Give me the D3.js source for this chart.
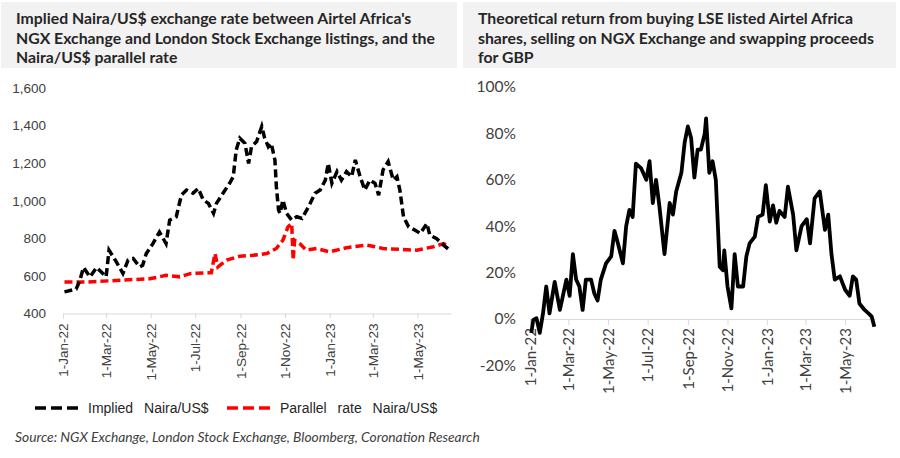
<!DOCTYPE html>
<html>
<head>
<meta charset="utf-8">
<script src="https://cdn.jsdelivr.net/npm/d3@7"></script>
<style>
  html, body { margin: 0; padding: 0; background: #fff; }
</style>
</head>
<body>
<div id="container"></div>
<script>
const WIDTH = 900;
const HEIGHT = 458;

// Implied Naira/US$ (NGX price vs LSE price)
const impliedDates = [
  '2022-01-03','2022-01-19','2022-01-24','2022-01-29','2022-02-07','2022-02-16','2022-03-01','2022-03-05',
  '2022-03-15','2022-03-24','2022-03-31','2022-04-07','2022-04-16','2022-04-20','2022-04-25','2022-05-04',
  '2022-05-13','2022-05-22','2022-05-27','2022-06-05','2022-06-12','2022-06-19','2022-06-28','2022-07-05',
  '2022-07-12','2022-07-19','2022-07-26','2022-07-30','2022-08-08','2022-08-17','2022-08-22','2022-08-26',
  '2022-08-31','2022-09-07','2022-09-12','2022-09-16','2022-09-23','2022-09-30','2022-10-04','2022-10-09',
  '2022-10-13','2022-10-18','2022-10-20','2022-10-23','2022-10-25','2022-10-29','2022-11-03','2022-11-10',
  '2022-11-17','2022-11-24','2022-12-03','2022-12-12','2022-12-19','2022-12-26','2022-12-30','2023-01-04',
  '2023-01-11','2023-01-17','2023-01-24','2023-01-31','2023-02-05','2023-02-11','2023-02-18','2023-02-25',
  '2023-03-04','2023-03-09','2023-03-15','2023-03-22','2023-03-29','2023-04-03','2023-04-07','2023-04-12',
  '2023-04-19','2023-04-28','2023-05-05','2023-05-14','2023-05-18','2023-05-27','2023-06-06','2023-06-14'
];
const impliedValues = [
  515, 530, 575, 645, 595, 645, 595, 737,
  675, 613, 684, 693, 648, 657, 719, 772,
  834, 772, 897, 915, 1030, 1057, 1040, 1066,
  1004, 986, 933, 986, 1040, 1093, 1128, 1270,
  1333, 1306, 1199, 1288, 1315, 1395, 1333, 1288,
  1306, 1217, 1075, 950, 933, 1004, 933, 897,
  915, 906, 968, 1040, 1057, 1110, 1199, 1093,
  1155, 1110, 1155, 1128, 1217, 1137, 1057, 1110,
  1093, 1030, 1164, 1208, 1110, 1128, 1057, 915,
  861, 843, 826, 879, 817, 799, 764, 737
];

// Parallel (street) Naira/US$ rate
const parallelDates = [
  '2022-01-03','2022-02-02','2022-03-15','2022-04-30','2022-05-22','2022-06-10','2022-06-24','2022-07-17',
  '2022-07-23','2022-07-28','2022-08-01','2022-08-13','2022-08-31','2022-09-18','2022-10-07','2022-10-20',
  '2022-10-29','2022-11-05','2022-11-10','2022-11-12','2022-11-14','2022-11-21','2022-11-30','2022-12-14',
  '2023-01-01','2023-01-24','2023-02-21','2023-03-15','2023-04-07','2023-04-30','2023-05-23','2023-06-06',
  '2023-06-14'
];
const parallelValues = [
  567, 567, 576, 585, 603, 595, 612, 617,
  617, 719, 648, 684, 705, 710, 719, 746,
  790, 861, 879, 684, 790, 772, 737, 746,
  728, 750, 764, 746, 741, 737, 755, 772,
  755
];

// Theoretical return, %
const returnDates = [
  '2022-01-03','2022-01-06','2022-01-11','2022-01-16','2022-01-21','2022-01-26','2022-01-31','2022-02-08',
  '2022-02-16','2022-02-26','2022-03-03','2022-03-08','2022-03-13','2022-03-18','2022-03-23','2022-03-28',
  '2022-04-05','2022-04-10','2022-04-15','2022-04-20','2022-04-28','2022-05-06','2022-05-11','2022-05-16',
  '2022-05-24','2022-05-29','2022-06-03','2022-06-08','2022-06-13','2022-06-21','2022-06-29','2022-07-04',
  '2022-07-09','2022-07-14','2022-07-19','2022-07-27','2022-08-04','2022-08-09','2022-08-14','2022-08-22',
  '2022-08-27','2022-09-01','2022-09-06','2022-09-11','2022-09-16','2022-09-21','2022-09-27','2022-09-29',
  '2022-10-04','2022-10-09','2022-10-14','2022-10-20','2022-10-25','2022-10-27','2022-11-01','2022-11-07',
  '2022-11-12','2022-11-17','2022-11-25','2022-11-30','2022-12-05','2022-12-13','2022-12-18','2022-12-25',
  '2022-12-30','2023-01-05','2023-01-10','2023-01-15','2023-01-20','2023-01-28','2023-02-02','2023-02-10',
  '2023-02-15','2023-02-23','2023-03-03','2023-03-08','2023-03-15','2023-03-23','2023-03-31','2023-04-05',
  '2023-04-10','2023-04-15','2023-04-23','2023-05-01','2023-05-08','2023-05-13','2023-05-18','2023-05-23',
  '2023-05-31','2023-06-06','2023-06-11','2023-06-15'
];
const returnValues = [
  -6, -0.4, 0.3, -6, 2.4, 14, 2.4, 16,
  3.9, 17, 10, 28, 17, 14, 3.9, 17,
  17, 11, 8, 17, 24, 27, 38, 33,
  24, 40, 47, 44, 67, 65, 60, 68,
  50, 60, 49, 28, 50, 45, 55, 63,
  76, 83, 78, 61, 73, 73, 80, 86.5,
  63, 68, 60, 22.5, 21, 29.6, 14, 4.6,
  28, 14, 14, 27, 32.6, 35.5, 44, 45,
  57.7, 42, 49, 41.5, 46.6, 44, 57, 45,
  29.6, 40, 43, 32.6, 52, 55, 38.4, 45,
  28, 17, 18.4, 12.6, 10, 18.4, 17, 6.7,
  3.9, 2.4, 1, -3.3
];

const xTickDates = ['2022-01-01','2022-03-01','2022-05-01','2022-07-01','2022-09-01','2022-11-01','2023-01-01','2023-03-01','2023-05-01'];
const leftYTicks = [400, 600, 800, 1000, 1200, 1400, 1600];
const rightYTicks = [-20, 0, 20, 40, 60, 80, 100];

const leftTitle = [
  "Implied Naira/US$ exchange rate between Airtel Africa's",
  'NGX Exchange and London Stock Exchange listings, and the',
  'Naira/US$ parallel rate'
];
const rightTitle = [
  'Theoretical return from buying LSE listed Airtel Africa',
  'shares, selling on NGX Exchange and swapping proceeds',
  'for GBP'
];
const legendLabels = ['Implied Naira/US$', 'Parallel rate Naira/US$'];
const sourceText = 'Source: NGX Exchange, London Stock Exchange, Bloomberg, Coronation Research';

const parseDate = d3.timeParse('%Y-%m-%d');
const fmtDate = d3.timeFormat('%-d-%b-%y');
const X_START = parseDate('2022-01-01');
const X_END = parseDate('2023-06-16');

const svg = d3.select('#container')
  .append('svg')
  .attr('width', WIDTH)
  .attr('height', HEIGHT)
  .style('display', 'block')
  .style('background-color', '#fff');

// title boxes
function drawTitle(x, w, lines) {
  svg.append('rect')
    .attr('x', x).attr('y', 2)
    .attr('width', w).attr('height', 66)
    .style('fill', '#f2f2f2');

  const t = svg.append('text')
    .attr('x', x + 15)
    .attr('y', 24)
    .style('font-family', 'Lato, sans-serif')
    .style('font-weight', 'bold')
    .style('font-size', '15.8px')
    .style('fill', '#262626');

  lines.forEach((line, i) => {
    t.append('tspan')
      .attr('x', x + 15)
      .attr('dy', i === 0 ? 0 : 19.5)
      .text(line);
  });
}

drawTitle(1, 456, leftTitle);
drawTitle(463, 433, rightTitle);

// ---- left chart ----
const xLeft = d3.scaleTime().domain([X_START, X_END]).range([63, 451]);
const yLeft = d3.scaleLinear().domain([400, 1600]).range([313.5, 88]);

const leftFont = '"Liberation Sans", Arial, sans-serif';

const yAxisLeft = svg.append('g')
  .attr('transform', 'translate(46,0)')
  .call(d3.axisLeft(yLeft).tickValues(leftYTicks).tickSize(0).tickPadding(0).tickFormat(d3.format(',')));
yAxisLeft.select('.domain').remove();
yAxisLeft.selectAll('text')
  .style('font-family', leftFont)
  .style('font-size', '13.5px')
  .style('fill', '#404040');

const xAxisLeft = svg.append('g')
  .attr('transform', `translate(0,${yLeft(400)})`)
  .call(d3.axisBottom(xLeft).tickValues(xTickDates.map(parseDate)).tickSize(5).tickSizeOuter(0).tickFormat(fmtDate));
xAxisLeft.select('.domain').style('stroke', '#d9d9d9');
xAxisLeft.selectAll('.tick line').style('stroke', '#d9d9d9');
xAxisLeft.selectAll('text')
  .attr('transform', 'rotate(-90)')
  .attr('x', -10)
  .attr('y', 0)
  .attr('dy', '0.35em')
  .style('text-anchor', 'end')
  .style('font-family', leftFont)
  .style('font-size', '13.5px')
  .style('fill', '#404040');

const lineLeft = d3.line()
  .x(d => xLeft(d.date))
  .y(d => yLeft(d.value));

const impliedData = impliedDates.map((d, i) => ({ date: parseDate(d), value: impliedValues[i] }));
const parallelData = parallelDates.map((d, i) => ({ date: parseDate(d), value: parallelValues[i] }));

svg.append('path')
  .datum(parallelData)
  .attr('d', lineLeft)
  .style('fill', 'none')
  .style('stroke', '#ff0000')
  .style('stroke-width', 3.5)
  .style('stroke-dasharray', '8,4');

svg.append('path')
  .datum(impliedData)
  .attr('d', lineLeft)
  .style('fill', 'none')
  .style('stroke', '#000')
  .style('stroke-width', 3.5)
  .style('stroke-dasharray', '8,4');

// legend
const legend = svg.append('g').attr('transform', 'translate(0,408)');
[
  { x: 35, color: '#000', label: legendLabels[0] },
  { x: 227, color: '#ff0000', label: legendLabels[1] }
].forEach(item => {
  legend.append('line')
    .attr('x1', item.x).attr('x2', item.x + 44)
    .attr('y1', 0).attr('y2', 0)
    .style('stroke', item.color)
    .style('stroke-width', 3.5)
    .style('stroke-dasharray', '11,5');
  legend.append('text')
    .attr('x', item.x + 53)
    .attr('y', 5)
    .style('font-family', leftFont)
    .style('font-size', '14px')
    .style('word-spacing', '7px')
    .style('fill', '#262626')
    .text(item.label);
});

svg.append('text')
  .attr('x', 15)
  .attr('y', 442)
  .style('font-family', 'Lato, sans-serif')
  .style('font-style', 'italic')
  .style('font-size', '13.8px')
  .style('fill', '#404040')
  .text(sourceText);

// ---- right chart ----
const xRight = d3.scaleTime().domain([X_START, X_END]).range([530, 875]);
const yRight = d3.scaleLinear().domain([-20, 100]).range([365.4, 87]);

const yAxisRight = svg.append('g')
  .attr('transform', 'translate(516,0)')
  .call(d3.axisLeft(yRight).tickValues(rightYTicks).tickSize(0).tickPadding(0).tickFormat(d => d + '%'));
yAxisRight.select('.domain').remove();
yAxisRight.selectAll('text')
  .style('font-family', 'Lato, sans-serif')
  .style('font-size', '15.5px')
  .style('fill', '#404040');

const xAxisRight = svg.append('g')
  .attr('transform', `translate(0,${yRight(0)})`)
  .call(d3.axisBottom(xRight).tickValues(xTickDates.map(parseDate)).tickSize(6).tickSizeOuter(0).tickFormat(fmtDate));
xAxisRight.select('.domain').style('stroke', '#d9d9d9');
xAxisRight.selectAll('.tick line').style('stroke', '#d9d9d9');
xAxisRight.selectAll('text')
  .attr('transform', 'rotate(-90)')
  .attr('x', -9)
  .attr('y', 0)
  .attr('dy', '0.35em')
  .style('text-anchor', 'end')
  .style('font-family', 'Lato, sans-serif')
  .style('font-size', '15px')
  .style('fill', '#404040');

const returnData = returnDates.map((d, i) => ({ date: parseDate(d), value: returnValues[i] }));

svg.append('path')
  .datum(returnData)
  .attr('d', d3.line().x(d => xRight(d.date)).y(d => yRight(d.value)))
  .style('fill', 'none')
  .style('stroke', '#000')
  .style('stroke-width', 3.8)
  .style('stroke-linejoin', 'round');
</script>
</body>
</html>
